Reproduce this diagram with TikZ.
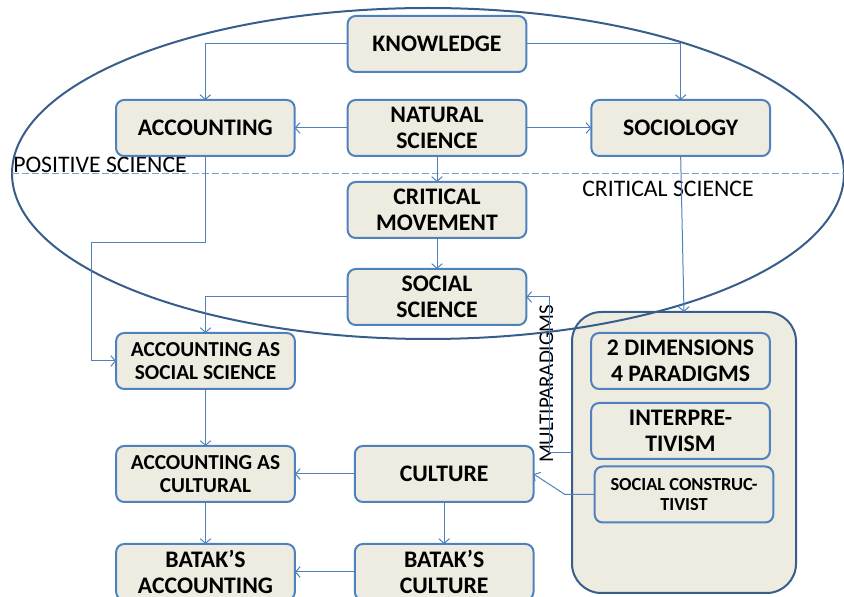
\documentclass[tikz,border=0pt]{standalone}
\usepackage{fontspec}
\setmainfont{Carlito}
\usetikzlibrary{arrows.meta, positioning}
\definecolor{boxFill}{RGB}{238,236,225}
\definecolor{boxLine}{RGB}{79,129,189}
\definecolor{ovalLine}{RGB}{56,93,138}
\definecolor{dashLine}{RGB}{125,162,210}

\begin{document}
\begin{tikzpicture}[
    x=0.75pt, y=0.75pt,
    every node/.style={font=\fontsize{17.8}{19.5}\selectfont},
    concept/.style={draw=boxLine, line width=1.5pt, rounded corners=6pt, fill=boxFill,
                    minimum width=134pt, minimum height=42pt, outer sep=0pt,
                    align=center, inner sep=1pt, font=\bfseries\fontsize{17.8}{19.5}\selectfont},
    smalltext/.style={font=\bfseries\fontsize{16}{17.25}\selectfont},
    link/.style={draw=boxLine, line width=0.75pt, -{Straight Barb[length=3.5pt,width=8pt]}},
    zone/.style={font=\fontsize{17.8}{19}\selectfont, inner sep=0pt}
  ]
    \useasboundingbox (0,0) rectangle (844,597);

    % paradigm frame on the right
    \node[draw=ovalLine, line width=1.5pt, rounded corners=22pt, fill=boxFill, outer sep=0pt,
          minimum width=168pt, minimum height=210.75pt, inner sep=0pt] (big) at (684,144.5) {};

    % science oval and its divider
    \draw[ovalLine, line width=1.5pt] (428,423.5) ellipse [x radius=416, y radius=165.5];
    \draw[dashLine, line width=0.75pt, dash pattern=on 5pt off 2.5pt] (12,423) -- (844,423);
    \node[zone, anchor=base west] (pos) at (13,424) {POSITIVE SCIENCE};
    \node[zone, anchor=base west] (crt) at (582,400) {CRITICAL SCIENCE};

    % upper column
    \node[concept] (know) at (437,553) {KNOWLEDGE};
    \node[concept, below=21pt of know] (nat) {NATURAL\\SCIENCE};
    \node[concept, left=39.75pt of nat] (acc) {ACCOUNTING};
    \node[concept, right=48.75pt of nat] (soc) {SOCIOLOGY};
    \node[concept, below=19.5pt of nat] (crit) {CRITICAL\\MOVEMENT};
    \node[concept, below=23.25pt of crit] (socsci) {SOCIAL\\SCIENCE};

    % lower columns
    \node[concept, smalltext] (accsoc) at (205.5,236) {ACCOUNTING AS\\SOCIAL SCIENCE};
    \node[concept, smalltext, below=42.75pt of accsoc] (acccult) {ACCOUNTING AS\\CULTURAL};
    \node[concept, below=31.5pt of acccult] (batacc) {BATAK'S\\ACCOUNTING};
    \node[concept, right=45pt of acccult] (cult) {CULTURE};
    \node[concept, below=31.5pt of cult] (batcult) {BATAK'S\\CULTURE};

    % paradigms
    \node[concept] (dims) at (680.5,236) {2 DIMENSIONS\\4 PARADIGMS};
    \node[concept, below=10.5pt of dims] (interp) {INTERPRE-\\TIVISM};
    \node[concept, font=\bfseries\fontsize{13.8}{15}\selectfont] (constr) at (684,102.5) {SOCIAL CONSTRUC-\\TIVIST};

    \coordinate (accbend) at (91,354);
    \coordinate (multi) at (549,144.5);
    \coordinate (cultbend) at (565,102.5);
    \node[zone, font=\fontsize{15.7}{17}\selectfont, rotate=90] (mp) at (546.5,213) {MULTIPARADIGMS};

    % connectors
    \draw[link] (know.west) -| (acc.north);
    \draw[link] (know.east) -| (soc.north);
    \draw[link] (nat.west) -- (acc.east);
    \draw[link] (nat.east) -- (soc.west);
    \draw[link] (nat.south) -- (crit.north);
    \draw[link] (crit.south) -- (socsci.north);
    \draw[link] (acc.south) |- (accbend) |- (accsoc.west);
    \draw[link] (socsci.west) -| (accsoc.north);
    \draw[link] (soc.south) -- (big.north);
    \draw[link] (accsoc.south) -- (acccult.north);
    \draw[link] (acccult.south) -- (batacc.north);
    \draw[link] (cult.west) -- (acccult.east);
    \draw[link] (cult.south) -- (batcult.north);
    \draw[link] (batcult.west) -- (batacc.east);
    \draw[link] (big.west) -- (multi) |- (socsci.east);
    \draw[link] (constr.west) -| (cultbend) -- (cult.east);
  \end{tikzpicture}
\end{document}
